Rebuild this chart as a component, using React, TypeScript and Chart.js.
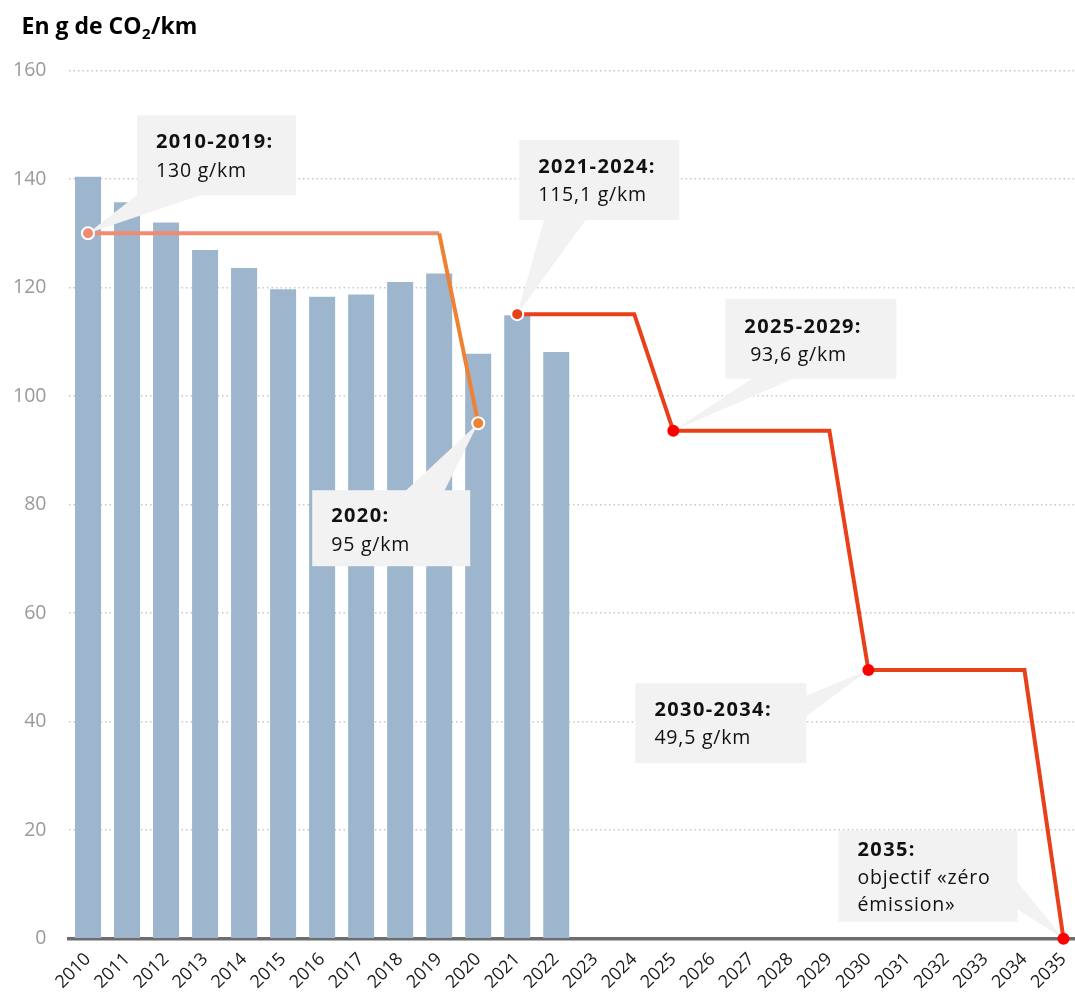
import React, { useEffect, useRef } from 'react';
import { Chart, registerables } from 'chart.js';

Chart.register(...registerables);

// ---------- data ----------
const years = [
  '2010', '2011', '2012', '2013', '2014', '2015', '2016', '2017', '2018',
  '2019', '2020', '2021', '2022', '2023', '2024', '2025', '2026', '2027',
  '2028', '2029', '2030', '2031', '2032', '2033', '2034', '2035',
];
const emissions = [140.4, 135.7, 132.0, 126.9, 123.6, 119.7, 118.3, 118.7, 121.0, 122.6, 107.8, 114.9, 108.1];
const periodStart = ['2010', '2020', '2021', '2025', '2030', '2035'];
const periodEnd = ['2019', '2020', '2024', '2029', '2034', '2035'];
const targetValues = [130, 95, 115.1, 93.6, 49.5, 0];
const calloutTitles = ['2010-2019:', '2020:', '2021-2024:', '2025-2029:', '2030-2034:', '2035:'];
const calloutLines = [['130 g/km'], ['95 g/km'], ['115,1 g/km'], [' 93,6 g/km'], ['49,5 g/km'], ['objectif «zéro', 'émission»']];
const yTicks = [0, 20, 40, 60, 80, 100, 120, 140, 160];
const titleMain = 'En g de CO';
const titleSub = '2';
const titleEnd = '/km';

// ---------- styling ----------
const FONT = '"Open Sans", "Noto Sans", sans-serif';
const BAR = '#9db6cd';
const SALMON = '#ef8b70';
const ORANGE = '#ef8232';
const RED_LINE = '#e8411a';
const RED_POINT = '#ff0000';
const CALLOUT_BG = '#f2f2f2';

const calloutBoxes = [
  { dx: 49, dy: -118, w: 159, h: 80, side: 'bottom', p0: 1, p1: 66, first: 27, gap: 29 },
  { dx: -166, dy: 67, w: 158, h: 76, side: 'top', p0: 93, p1: 132, first: 26, gap: 29 },
  { dx: 2, dy: -174, w: 160, h: 80, side: 'bottom', p0: 25, p1: 67, first: 27, gap: 28.5 },
  { dx: 52, dy: -132, w: 171, h: 80, side: 'bottom', p0: 28, p1: 70, first: 28, gap: 28.5 },
  { dx: -233, dy: 13, w: 171, h: 80, side: 'right', p0: 13, p1: 34, first: 27, gap: 28.5 },
  { dx: -225, dy: -108, w: 179, h: 91, side: 'right', p0: 50, p1: 78, first: 20, gap: 27.5 },
];

function periodSeries(periods: number[]) {
  return years.map((y) => {
    for (const p of periods) {
      if (y >= periodStart[p] && y <= periodEnd[p]) return targetValues[p];
    }
    return null;
  });
}
const historic = periodSeries([0, 1]);
const future = periodSeries([2, 3, 4, 5]);
const barData = years.map((_, i) => (i < emissions.length ? emissions[i] : null));

const calloutPlugin = {
  id: 'callouts',
  afterDatasetDraw(chart: any, args: any) {
    if (args.meta.type !== 'bar') return;
    const ctx = chart.ctx as CanvasRenderingContext2D;
    const xs = chart.scales.x;
    const ys = chart.scales.y;
    ctx.save();
    calloutBoxes.forEach((b, i) => {
      const idx = years.indexOf(periodStart[i]);
      const ax = xs.getPixelForValue(idx);
      const ay = ys.getPixelForValue(targetValues[i]);
      const left = ax + b.dx;
      const top = ay + b.dy;
      ctx.fillStyle = CALLOUT_BG;
      ctx.beginPath();
      if (b.side === 'bottom') {
        ctx.moveTo(left + b.p0, top + b.h - 1);
        ctx.lineTo(left + b.p1, top + b.h - 1);
      } else if (b.side === 'top') {
        ctx.moveTo(left + b.p0, top + 1);
        ctx.lineTo(left + b.p1, top + 1);
      } else {
        ctx.moveTo(left + b.w - 1, top + b.p0);
        ctx.lineTo(left + b.w - 1, top + b.p1);
      }
      ctx.lineTo(ax, ay);
      ctx.closePath();
      ctx.fill();
      ctx.fillRect(left, top, b.w, b.h);

      ctx.fillStyle = '#111111';
      ctx.textAlign = 'left';
      ctx.textBaseline = 'middle';
      (ctx as any).letterSpacing = '1.4px';
      ctx.font = `bold 20px ${FONT}`;
      ctx.fillText(calloutTitles[i], left + 19, top + b.first);
      (ctx as any).letterSpacing = '0.8px';
      ctx.font = `19.5px ${FONT}`;
      calloutLines[i].forEach((ln, j) => {
        ctx.fillText(ln, left + 19, top + b.first + b.gap * (j + 1));
      });
      (ctx as any).letterSpacing = '0px';
    });
    ctx.restore();
  },
  afterDraw(chart: any) {
    const ctx = chart.ctx as CanvasRenderingContext2D;
    ctx.save();
    ctx.fillStyle = '#000';
    ctx.textAlign = 'left';
    ctx.textBaseline = 'alphabetic';
    ctx.font = `bold 23px ${FONT}`;
    let x = 21.5;
    const base = 33.5;
    ctx.fillText(titleMain, x, base);
    x += ctx.measureText(titleMain).width;
    ctx.font = `bold 15px ${FONT}`;
    ctx.fillText(titleSub, x + 0.5, base + 5);
    x += ctx.measureText(titleSub).width + 1;
    ctx.font = `bold 23px ${FONT}`;
    ctx.fillText(titleEnd, x, base);
    ctx.restore();
  },
};

export default function App() {
  const ref = useRef<HTMLCanvasElement>(null);
  useEffect(() => {
    if (!ref.current) return;
    const isStart = (i: number) => periodStart.includes(years[i]);
    const chart = new Chart(ref.current, {
      type: 'bar',
      data: {
        labels: years,
        datasets: [
          {
            type: 'line',
            data: future,
            order: 1,
            clip: false,
            borderColor: RED_LINE,
            borderWidth: 4,
            borderJoinStyle: 'miter',
            spanGaps: false,
            pointRadius: (c: any) => (isStart(c.dataIndex) ? 6 : 0),
            pointBackgroundColor: (c: any) => (years[c.dataIndex] === '2021' ? RED_LINE : RED_POINT),
            pointBorderColor: (c: any) => (years[c.dataIndex] === '2021' ? '#ffffff' : RED_POINT),
            pointBorderWidth: (c: any) => (years[c.dataIndex] === '2021' ? 2 : 0),
            pointHoverRadius: 0,
          } as any,
          {
            type: 'line',
            data: historic,
            order: 2,
            clip: false,
            borderColor: SALMON,
            borderWidth: 4,
            borderJoinStyle: 'miter',
            segment: {
              borderColor: (c: any) => (years[c.p1DataIndex] === periodStart[1] ? ORANGE : SALMON),
            },
            pointRadius: (c: any) => (isStart(c.dataIndex) ? 6 : 0),
            pointBackgroundColor: (c: any) => (years[c.dataIndex] === periodStart[1] ? ORANGE : SALMON),
            pointBorderColor: '#ffffff',
            pointBorderWidth: 2,
            pointHoverRadius: 0,
          } as any,
          {
            type: 'bar',
            data: barData,
            order: 3,
            backgroundColor: BAR,
            borderWidth: 0,
            barPercentage: 0.667,
            categoryPercentage: 1,
          } as any,
        ],
      },
      options: {
        animation: false,
        responsive: false,
        events: [],
        layout: { padding: { top: 70.5, left: 0, right: 0, bottom: 0 } },
        plugins: { legend: { display: false }, tooltip: { enabled: false }, title: { display: false } },
        scales: {
          x: {
            offset: true,
            grid: { display: false, drawTicks: false },
            border: { display: true, color: '#6d6d6d', width: 3.5 },
            ticks: {
              autoSkip: false,
              maxRotation: 45,
              minRotation: 45,
              padding: 10,
              color: '#1a1a1a',
              font: { family: FONT, size: 18 },
            },
            afterFit: (s: any) => {
              s.height = 57.3;
            },
          } as any,
          y: {
            min: 0,
            max: 160,
            afterBuildTicks: (s: any) => {
              s.ticks = yTicks.map((v) => ({ value: v }));
            },
            grid: { color: '#c8c8c8', lineWidth: 1.5, drawTicks: false },
            border: { display: false, dash: [1.5, 3] },
            ticks: {
              padding: 22,
              color: '#9a9a9a',
              font: { family: FONT, size: 19.5 },
            },
            afterFit: (s: any) => {
              s.width = 68.5;
            },
          } as any,
        },
      },
      plugins: [calloutPlugin],
    });
    return () => chart.destroy();
  }, []);

  return (
    <div style={{ position: 'fixed', left: 0, top: 0, width: 1075, height: 996, overflow: 'hidden', background: '#fff' }}>
      <canvas ref={ref} width={1091} height={996} style={{ display: 'block', width: 1091, height: 996 }} />
    </div>
  );
}
